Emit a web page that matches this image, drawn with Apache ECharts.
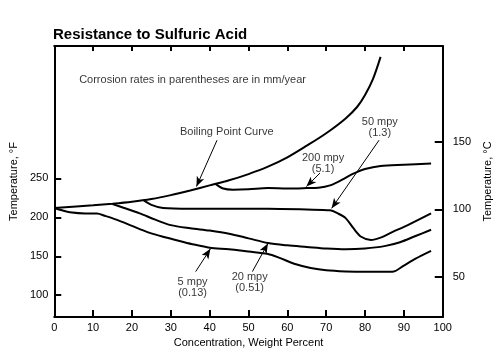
<!DOCTYPE html>
<html>
<head>
<meta charset="utf-8">
<script src="https://cdn.jsdelivr.net/npm/echarts@6/dist/echarts.min.js"></script>
<style>html,body{margin:0;padding:0;background:#fff;}#c{width:501px;height:364px;}</style>
</head>
<body>
<div id="c"></div>
<script>
// ---- data (x = concentration wt%, y = temperature °F) ----
const boilingCurve = [[0,212],[10,215.5],[15,217.5],[20,220],[25,223.5],[30,228.5],[35,234.5],[40,241],[45,247.5],[50,255.5],[55,265],[60,277],[65,292],[70,308],[75,327],[78,342],[80,357],[82,377],[84,406]];
const mpy200 = [[41.5,243],[43.5,237],[46,235.5],[50,236],[55,237.5],[60,237],[65,237.5],[68,238],[71,241],[74,248],[77,256],[80,262],[84,266],[90,267.5],[97,269]];
const mpy50 = [[23,222],[25,216],[28,212],[35,211],[45,211],[55,211],[65,210],[71,209],[73,205],[75,199],[77,186],[79,175],[81.5,171],[84,174],[87,181],[91,190],[97,205]];
const mpy20 = [[15,217],[18,212],[22,205],[26,197],[30,190],[35,186],[40,183],[45,179],[50,173],[55,167],[60,164],[65,162],[70,160],[75,159],[80,160],[85,163],[89,168],[93,176],[97,184]];
const mpy5 = [[0,212],[2,209],[4,206.5],[8,205],[11,205],[13,202],[16,197],[20,189],[24,181],[28,175],[32,170],[36,165],[40,161],[45,159],[50,156],[55,153],[58,148],[62,140],[66,135],[70,132],[75,130.5],[80,130],[87,130],[90,138],[93,147],[97,157]];

const xTickLabels = [0,10,20,30,40,50,60,70,80,90,100];
const leftTicksF = [100,150,200,250];
const rightTicksC = [50,100,150];

// annotation texts and their anchor positions (data coords)
const noteTexts = ['Corrosion rates in parentheses are in mm/year','Boiling Point Curve','200 mpy\n(5.1)','50 mpy\n(1.3)','5 mpy\n(0.13)','20 mpy\n(0.51)'];
const noteX = [35.6, 44.4, 69.2, 83.8, 35.6, 50.3];
const noteY = [377, 309.5, 269.5, 315, 110.5, 116.5];
// arrows: [fromX, fromY, toX, toY]
const arrows = [
  [41.9, 299, 36.6, 239.5],
  [68.4, 256.8, 64.9, 239.5],
  [83.6, 299, 71.4, 211.5],
  [36.4, 130.3, 40.2, 159.5],
  [51.0, 130.3, 55.0, 166.5]
];

const FONT = 'Liberation Sans, Arial, sans-serif';
const chart = echarts.init(document.getElementById('c'), null, {renderer:'canvas'});

function curve(name, data){
  return {name, type:'line', data, xAxisIndex:0, yAxisIndex:0, smooth:0.3,
    showSymbol:false, symbol:'none', lineStyle:{color:'#000', width:2}, silent:true, z:3};
}

const option = {
  animation:false,
  backgroundColor:'#fff',
  textStyle:{fontFamily:FONT, color:'#000'},
  title:{text:'Resistance to Sulfuric Acid', left:53, top:27, padding:0,
    textStyle:{fontFamily:FONT, fontSize:15, fontWeight:'bold', color:'#000'}},
  grid:{left:54, right:51, top:46, bottom:47, containLabel:false},
  xAxis:[
    {type:'value', position:'bottom', min:0, max:100, interval:10,
      name:'Concentration, Weight Percent', nameLocation:'middle', nameGap:16,
      nameTextStyle:{fontFamily:FONT, fontSize:11, color:'#000'},
      axisLine:{show:true, onZero:false, lineStyle:{color:'#000', width:2}},
      axisTick:{show:true, inside:true, length:7, lineStyle:{color:'#000', width:2}},
      axisLabel:{show:true, margin:5, fontFamily:FONT, fontSize:11, color:'#000',
        customValues:xTickLabels},
      splitLine:{show:false}},
    {type:'value', position:'top', min:0, max:100, interval:10,
      axisLine:{show:true, onZero:false, lineStyle:{color:'#000', width:2}},
      axisTick:{show:true, inside:true, length:5, lineStyle:{color:'#000', width:2}},
      axisLabel:{show:false}, splitLine:{show:false}}
  ],
  yAxis:[
    {type:'value', position:'left', min:72, max:420,
      name:'Temperature, °F', nameLocation:'middle', nameGap:27, nameRotate:90,
      nameTextStyle:{fontFamily:FONT, fontSize:11, color:'#000'},
      axisLine:{show:true, onZero:false, lineStyle:{color:'#000', width:2}},
      axisTick:{show:true, inside:true, length:7, lineStyle:{color:'#000', width:2}, customValues:leftTicksF},
      axisLabel:{show:true, margin:6, fontFamily:FONT, fontSize:11, color:'#000', customValues:leftTicksF},
      splitLine:{show:false}},
    {type:'value', position:'right', min:20, max:221.5,
      name:'Temperature, °C', nameLocation:'middle', nameGap:28, nameRotate:90,
      nameTextStyle:{fontFamily:FONT, fontSize:11, color:'#000'},
      axisLine:{show:true, onZero:false, lineStyle:{color:'#000', width:2}},
      axisTick:{show:true, inside:true, length:8, lineStyle:{color:'#000', width:2}, customValues:rightTicksC},
      axisLabel:{show:true, margin:10, fontFamily:FONT, fontSize:11, color:'#000', customValues:rightTicksC},
      splitLine:{show:false}}
  ],
  series:[
    curve('Boiling Point Curve', boilingCurve),
    curve('200 mpy', mpy200),
    curve('50 mpy', mpy50),
    curve('20 mpy', mpy20),
    curve('5 mpy', mpy5),
    {name:'notes', type:'scatter', xAxisIndex:0, yAxisIndex:0, symbolSize:0, silent:true, z:5,
      data: noteTexts.map((t,i)=>({name:t, value:[noteX[i], noteY[i]]})),
      label:{show:true, position:'inside', formatter:p=>p.name, fontFamily:FONT, fontSize:11,
        color:'#000', lineHeight:11, align:'center', verticalAlign:'middle'},
      markLine:{silent:true, symbol:['none','arrow'], symbolSize:[6,10], animation:false,
        lineStyle:{color:'#000', width:1, type:'solid'}, label:{show:false},
        emphasis:{disabled:true},
        data: arrows.map(a=>[{coord:[a[0],a[1]]},{coord:[a[2],a[3]]}])}
    }
  ]
};
chart.setOption(option);
</script>
</body>
</html>
